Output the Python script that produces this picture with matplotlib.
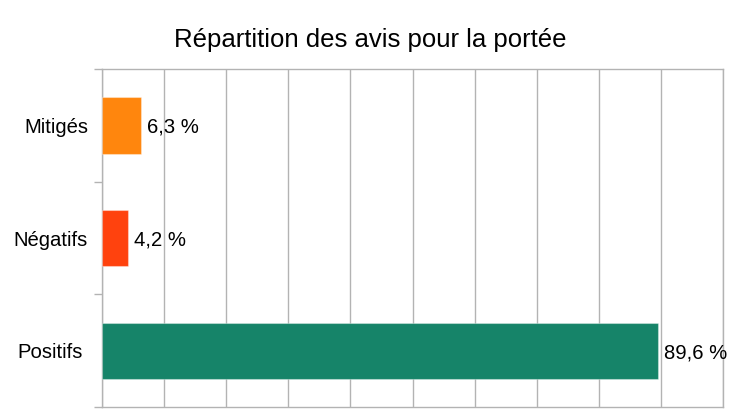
import matplotlib
matplotlib.use("Agg")
import matplotlib.pyplot as plt
import matplotlib.transforms as mtransforms
from matplotlib.ticker import FixedLocator, NullFormatter

plt.rcParams['font.family'] = ['Liberation Sans', 'DejaVu Sans']

title = "Répartition des avis pour la portée"
categories = ["Positifs", "Négatifs", "Mitigés"]
values = [89.6, 4.2, 6.3]
labels = ["89,6 %", "4,2 %", "6,3 %"]
colors = ["#168469", "#ff420e", "#ff860d"]

fig = plt.figure(figsize=(7.4, 4.16), dpi=100)
ax = fig.add_axes([102/740, 1 - 407/416, (723 - 102)/740, (407 - 69)/416])

ypos = list(range(len(categories)))
ax.barh(ypos, values, height=0.5, color=colors, zorder=3,
        edgecolor=[(1, 1, 1, 0.35)] * 3, linewidth=0.8)

for y, v, lab in zip(ypos, values, labels):
    ax.annotate(lab, xy=(v, y), xytext=(4, -1.5), textcoords="offset points",
                va="center", ha="left", fontsize=14.6, color="#000000", zorder=4)

ax.set_xlim(0, 100)
ax.set_ylim(-0.5, len(categories) - 0.5)
ax.set_xticks(range(0, 101, 10))
ax.xaxis.set_major_formatter(NullFormatter())
ax.tick_params(axis="x", length=0)
ax.grid(axis="x", color="#b3b3b3", linewidth=1, zorder=0)

ax.yaxis.set_major_locator(FixedLocator([-0.5, 0.5, 1.5, 2.5]))
ax.yaxis.set_major_formatter(NullFormatter())
ax.yaxis.set_minor_locator(FixedLocator(ypos))
ax.set_yticklabels(categories, minor=True)
ax.tick_params(axis="y", which="major", length=6, color="#b3b3b3", width=1)
ax.tick_params(axis="y", which="minor", length=0, pad=10, labelsize=14.6)

# the "Positifs" label sits a little further left in the reference
lbl = ax.yaxis.get_minor_ticks()[0].label1
lbl.set_transform(lbl.get_transform() + mtransforms.ScaledTranslation(-5/100, 0, fig.dpi_scale_trans))

for s in ax.spines.values():
    s.set_color("#b3b3b3")
    s.set_linewidth(1)

fig.text(0.5, 1 - 40/416, title, ha="center", va="center", fontsize=18.5)

fig.savefig("out.png", dpi=100)
